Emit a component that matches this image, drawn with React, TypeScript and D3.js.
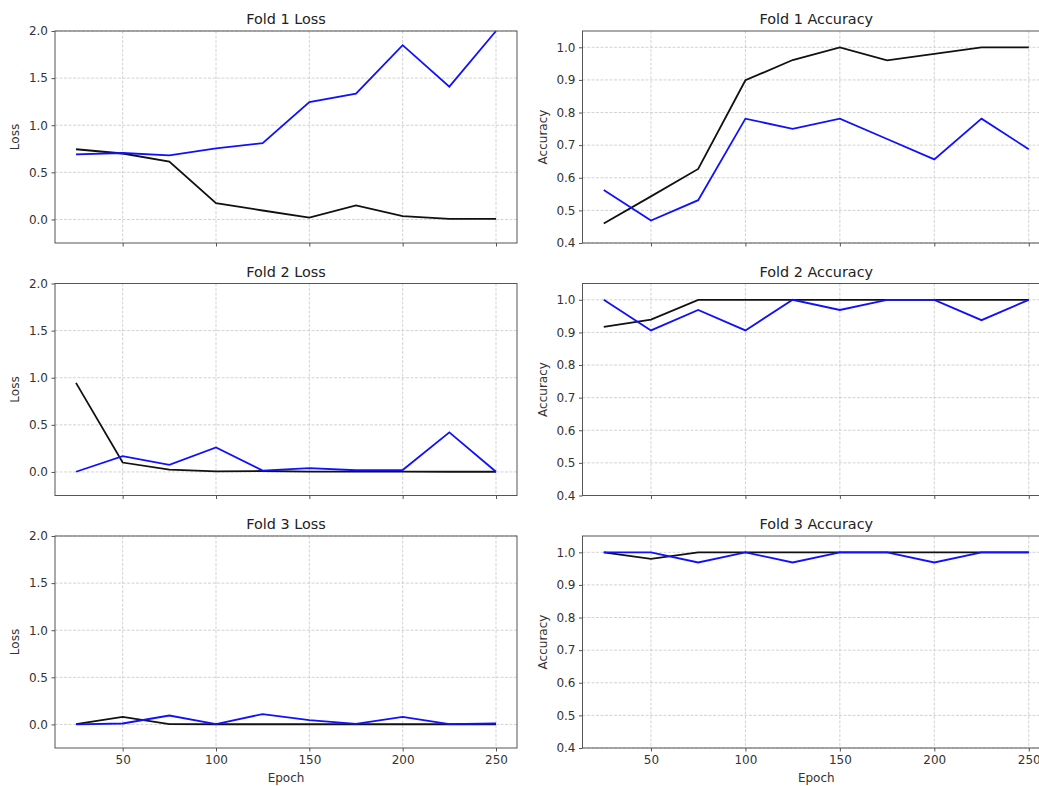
import React, { useRef, useEffect } from "react";
import * as d3 from "d3";

const epochs = [25, 50, 75, 100, 125, 150, 175, 200, 225, 250];

// black = train, blue = validation
const fold1TrainLoss = [0.745, 0.7, 0.615, 0.173, 0.095, 0.02, 0.15, 0.035, 0.007, 0.007];
const fold1ValLoss = [0.69, 0.705, 0.68, 0.755, 0.81, 1.245, 1.335, 1.85, 1.41, 2.0];
const fold1TrainAcc = [0.46, 0.543, 0.627, 0.899, 0.961, 1.0, 0.96, 0.98, 1.0, 1.0];
const fold1ValAcc = [0.5625, 0.46875, 0.53125, 0.78125, 0.75, 0.78125, 0.71875, 0.65625, 0.78125, 0.6875];

const fold2TrainLoss = [0.945, 0.1, 0.025, 0.007, 0.01, 0.004, 0.004, 0.004, 0.002, 0.002];
const fold2ValLoss = [0.002, 0.167, 0.075, 0.26, 0.015, 0.04, 0.018, 0.02, 0.42, 0.002];
const fold2TrainAcc = [0.917, 0.939, 1.0, 1.0, 1.0, 1.0, 1.0, 1.0, 1.0, 1.0];
const fold2ValAcc = [1.0, 0.90625, 0.96875, 0.90625, 1.0, 0.96875, 1.0, 1.0, 0.9375, 1.0];

const fold3TrainLoss = [0.003, 0.08, 0.003, 0.002, 0.002, 0.002, 0.002, 0.002, 0.002, 0.002];
const fold3ValLoss = [0.0, 0.01, 0.095, 0.003, 0.11, 0.045, 0.007, 0.08, 0.003, 0.01];
const fold3TrainAcc = [1.0, 0.98, 1.0, 1.0, 1.0, 1.0, 1.0, 1.0, 1.0, 1.0];
const fold3ValAcc = [1.0, 1.0, 0.96875, 1.0, 0.96875, 1.0, 1.0, 0.96875, 1.0, 1.0];

const lossTicks = [0, 0.5, 1.0, 1.5, 2.0];
const accTicks = [0.4, 0.5, 0.6, 0.7, 0.8, 0.9, 1.0];
const epochTicks = [50, 100, 150, 200, 250];

const WIDTH = 1039;
const HEIGHT = 786;
const FONT = "DejaVu Sans, sans-serif";
const rowTops = [31, 283.5, 536];
const panelH = 212;
const cols = [
  { x0: 55, x1: 517 },
  { x0: 582.5, x1: 1050 },
];

function Panel({ title, ylabel, col, row, train, val, yDomain, yTicks, showX }) {
  const gRef = useRef(null);

  useEffect(() => {
    const g = d3.select(gRef.current);
    g.selectAll("*").remove();
    const { x0, x1 } = cols[col];
    const top = rowTops[row];
    const bottom = top + panelH;

    const x = d3.scaleLinear().domain([13.75, 261.25]).range([x0, x1]);
    const y = d3.scaleLinear().domain(yDomain).range([bottom, top]);

    // grid
    const grid = g.append("g").attr("stroke", "#c8c8c8").attr("stroke-width", 0.8).attr("stroke-dasharray", "3,1.5");
    epochTicks.forEach((t) => {
      grid.append("line").attr("x1", x(t)).attr("x2", x(t)).attr("y1", top).attr("y2", bottom);
    });
    yTicks.forEach((t) => {
      grid.append("line").attr("x1", x0).attr("x2", x1).attr("y1", y(t)).attr("y2", y(t));
    });

    const line = d3
      .line()
      .x((d, i) => x(epochs[i]))
      .y((d) => y(d));

    g.append("path").datum(train).attr("fill", "none").attr("stroke", "#111").attr("stroke-width", 1.8).attr("d", line);
    g.append("path").datum(val).attr("fill", "none").attr("stroke", "#1010ff").attr("stroke-width", 1.8).attr("d", line);

    // frame
    g.append("rect")
      .attr("x", x0)
      .attr("y", top)
      .attr("width", x1 - x0)
      .attr("height", panelH)
      .attr("fill", "none")
      .attr("stroke", "#555")
      .attr("stroke-width", 1);

    const yAxis = g
      .append("g")
      .attr("transform", `translate(${x0},0)`)
      .call(d3.axisLeft(y).tickValues(yTicks).tickFormat(d3.format(".1f")).tickSize(3.5).tickPadding(3.5));
    const xAxis = g
      .append("g")
      .attr("transform", `translate(0,${bottom})`)
      .call(
        d3
          .axisBottom(x)
          .tickValues(epochTicks)
          .tickFormat(showX ? d3.format("d") : () => "")
          .tickSize(3.5)
          .tickPadding(4)
      );
    [yAxis, xAxis].forEach((a) => {
      a.select(".domain").remove();
      a.selectAll("line").attr("stroke", "#555");
      a.selectAll("text").attr("fill", "#333").style("font-family", FONT).style("font-size", "12px");
    });

    g.append("text")
      .attr("x", (x0 + Math.min(x1, WIDTH + 11)) / 2)
      .attr("y", top - 7)
      .attr("text-anchor", "middle")
      .attr("fill", "#222")
      .style("font-family", FONT)
      .style("font-size", "14.4px")
      .text(title);

    g.append("text")
      .attr("transform", `translate(${col === 0 ? 19 : 547},${(top + bottom) / 2}) rotate(-90)`)
      .attr("text-anchor", "middle")
      .attr("fill", "#333")
      .style("font-family", FONT)
      .style("font-size", "12px")
      .text(ylabel);

    if (showX) {
      g.append("text")
        .attr("x", (x0 + x1) / 2)
        .attr("y", bottom + 34)
        .attr("text-anchor", "middle")
        .attr("fill", "#333")
        .style("font-family", FONT)
        .style("font-size", "12px")
        .text("Epoch");
    }
  }, [title, ylabel, col, row, train, val, yDomain, yTicks, showX]);

  return <g ref={gRef}></g>;
}

const lossDomain = [-0.25, 2.0];
const accDomain = [0.4, 1.05];

export default function App() {
  return (
    <svg width={WIDTH} height={HEIGHT} style={{ position: "absolute", left: 0, top: 0, background: "#fff" }}>
      <Panel title="Fold 1 Loss" ylabel="Loss" col={0} row={0} train={fold1TrainLoss} val={fold1ValLoss} yDomain={lossDomain} yTicks={lossTicks} showX={false} />
      <Panel title="Fold 1 Accuracy" ylabel="Accuracy" col={1} row={0} train={fold1TrainAcc} val={fold1ValAcc} yDomain={accDomain} yTicks={accTicks} showX={false} />
      <Panel title="Fold 2 Loss" ylabel="Loss" col={0} row={1} train={fold2TrainLoss} val={fold2ValLoss} yDomain={lossDomain} yTicks={lossTicks} showX={false} />
      <Panel title="Fold 2 Accuracy" ylabel="Accuracy" col={1} row={1} train={fold2TrainAcc} val={fold2ValAcc} yDomain={accDomain} yTicks={accTicks} showX={false} />
      <Panel title="Fold 3 Loss" ylabel="Loss" col={0} row={2} train={fold3TrainLoss} val={fold3ValLoss} yDomain={lossDomain} yTicks={lossTicks} showX={true} />
      <Panel title="Fold 3 Accuracy" ylabel="Accuracy" col={1} row={2} train={fold3TrainAcc} val={fold3ValAcc} yDomain={accDomain} yTicks={accTicks} showX={true} />
    </svg>
  );
}
